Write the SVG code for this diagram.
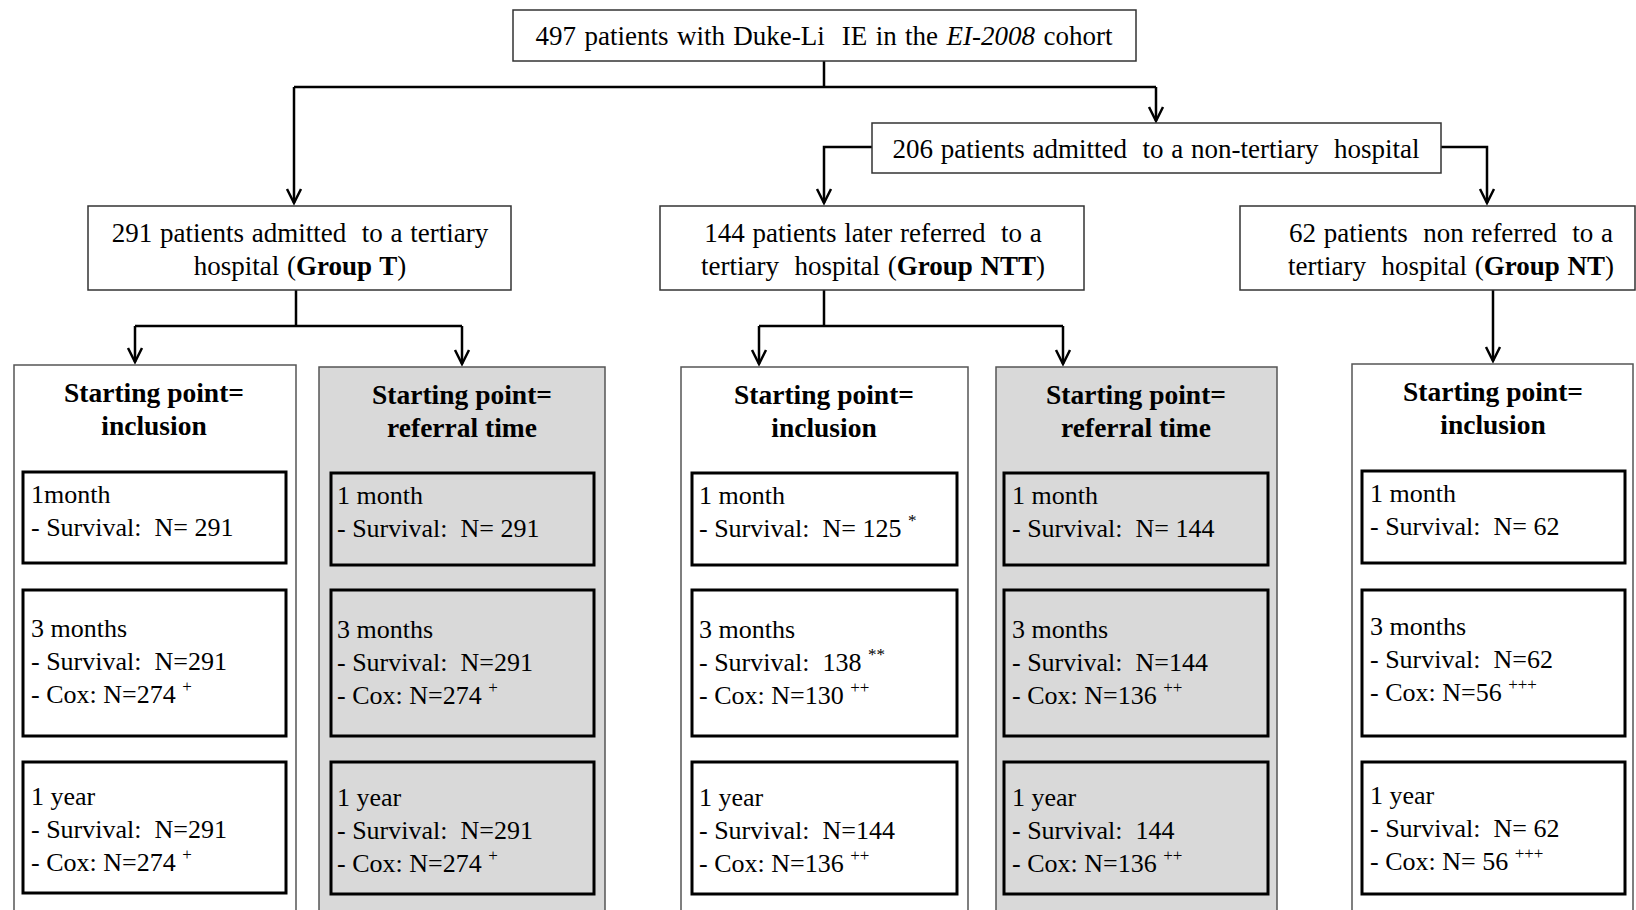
<svg xmlns="http://www.w3.org/2000/svg" width="1636" height="910" viewBox="0 0 1636 910">
<defs>
<style>
.t{font-family:"Liberation Serif","Times New Roman",serif;font-size:26px;fill:#000;white-space:pre}
.h{font-size:27px;word-spacing:1px}
.c{text-anchor:middle}
.b{font-weight:bold}
.ti{font-size:27.5px;font-weight:bold}
.box{fill:#fff;stroke:#333;stroke-width:1.5}
.colw{fill:#fff;stroke:#555;stroke-width:1.5}
.colg{fill:#d9d9d9;stroke:#555;stroke-width:1.5}
.in{fill:none;stroke:#000;stroke-width:3}
.conn{fill:none;stroke:#000;stroke-width:2.5}
.arr{marker-end:url(#ah)}
.sup{font-size:17px}
</style>
<marker id="ah" markerUnits="userSpaceOnUse" markerWidth="30" markerHeight="30" refX="0" refY="0" orient="auto" overflow="visible" viewBox="-20 -15 30 30">
<path d="M-14,-7 L0,0 L-14,7" fill="none" stroke="#000" stroke-width="2.5"/>
</marker>
</defs>
<rect width="1636" height="910" fill="#fff"/>
<g id="connectors">
<path class="conn" d="M824,61 V87 M294,87 H1156"/>
<path class="conn arr" d="M294,87 V203"/>
<path class="conn arr" d="M1156,87 V121"/>
<path class="conn arr" d="M872,147 H824 V203"/>
<path class="conn arr" d="M1441,147 H1487 V203"/>
<path class="conn" d="M296,290 V326 M135,326 H462"/>
<path class="conn arr" d="M135,326 V362"/>
<path class="conn arr" d="M462,326 V364"/>
<path class="conn" d="M824,290 V326 M759,326 H1063"/>
<path class="conn arr" d="M759,326 V364"/>
<path class="conn arr" d="M1063,326 V364"/>
<path class="conn arr" d="M1493,290 V361"/>
</g>
<g id="n-top">
<rect class="box" x="513" y="10" width="623" height="51"/>
<text class="t h c" x="824" y="45" style="word-spacing:1.7px">497 patients with Duke-Li  IE in the <tspan font-style="italic">EI-2008</tspan> cohort</text>
</g>
<g id="n-nontertiary">
<rect class="box" x="872" y="123" width="569" height="50"/>
<text class="t h c" x="1156" y="158">206 patients admitted  to a non-tertiary  hospital</text>
</g>
<g id="n-groupT">
<rect class="box" x="88" y="206" width="423" height="84"/>
<text class="t h c" x="300" y="242">291 patients admitted  to a tertiary</text>
<text class="t h c" x="300" y="275">hospital (<tspan class="b">Group T</tspan>)</text>
</g>
<g id="n-groupNTT">
<rect class="box" x="660" y="206" width="424" height="84"/>
<text class="t h c" x="873" y="242">144 patients later referred  to a</text>
<text class="t h c" x="873" y="275">tertiary  hospital (<tspan class="b">Group NTT</tspan>)</text>
</g>
<g id="n-groupNT">
<rect class="box" x="1240" y="206" width="395" height="84"/>
<text class="t h c" x="1451" y="242">62 patients  non referred  to a</text>
<text class="t h c" x="1451" y="275">tertiary  hospital (<tspan class="b">Group NT</tspan>)</text>
</g>
<g id="n-T-inclusion">
<rect class="colw" x="14" y="365" width="282" height="570"/>
<text class="t ti c" x="154" y="402">Starting point=</text>
<text class="t ti c" x="154" y="435">inclusion</text>
<rect class="in" x="23" y="472" width="263" height="91"/>
<text class="t" x="31" y="503">1month</text>
<text class="t" x="31" y="536">- Survival:  N= 291</text>
<rect class="in" x="23" y="590" width="263" height="146"/>
<text class="t" x="31" y="637">3 months</text>
<text class="t" x="31" y="670">- Survival:  N=291</text>
<text class="t" x="31" y="703">- Cox: N=274 <tspan class="sup" dy="-11">+</tspan></text>
<rect class="in" x="23" y="762" width="263" height="131"/>
<text class="t" x="31" y="805">1 year</text>
<text class="t" x="31" y="838">- Survival:  N=291</text>
<text class="t" x="31" y="871">- Cox: N=274 <tspan class="sup" dy="-11">+</tspan></text>
</g>
<g id="n-T-referral">
<rect class="colg" x="319" y="367" width="286" height="570"/>
<text class="t ti c" x="462" y="404">Starting point=</text>
<text class="t ti c" x="462" y="437">referral time</text>
<rect class="in" x="331" y="473" width="263" height="92"/>
<text class="t" x="337" y="504">1 month</text>
<text class="t" x="337" y="537">- Survival:  N= 291</text>
<rect class="in" x="331" y="590" width="263" height="146"/>
<text class="t" x="337" y="638">3 months</text>
<text class="t" x="337" y="671">- Survival:  N=291</text>
<text class="t" x="337" y="704">- Cox: N=274 <tspan class="sup" dy="-11">+</tspan></text>
<rect class="in" x="331" y="762" width="263" height="132"/>
<text class="t" x="337" y="806">1 year</text>
<text class="t" x="337" y="839">- Survival:  N=291</text>
<text class="t" x="337" y="872">- Cox: N=274 <tspan class="sup" dy="-11">+</tspan></text>
</g>
<g id="n-NTT-inclusion">
<rect class="colw" x="681" y="367" width="287" height="570"/>
<text class="t ti c" x="824" y="404">Starting point=</text>
<text class="t ti c" x="824" y="437">inclusion</text>
<rect class="in" x="692" y="473" width="265" height="92"/>
<text class="t" x="699" y="504">1 month</text>
<text class="t" x="699" y="537">- Survival:  N= 125 <tspan class="sup" dy="-11">*</tspan></text>
<rect class="in" x="692" y="590" width="265" height="146"/>
<text class="t" x="699" y="638">3 months</text>
<text class="t" x="699" y="671">- Survival:  138 <tspan class="sup" dy="-11">**</tspan></text>
<text class="t" x="699" y="704">- Cox: N=130 <tspan class="sup" dy="-11">++</tspan></text>
<rect class="in" x="692" y="762" width="265" height="132"/>
<text class="t" x="699" y="806">1 year</text>
<text class="t" x="699" y="839">- Survival:  N=144</text>
<text class="t" x="699" y="872">- Cox: N=136 <tspan class="sup" dy="-11">++</tspan></text>
</g>
<g id="n-NTT-referral">
<rect class="colg" x="996" y="367" width="281" height="570"/>
<text class="t ti c" x="1136" y="404">Starting point=</text>
<text class="t ti c" x="1136" y="437">referral time</text>
<rect class="in" x="1004" y="473" width="264" height="92"/>
<text class="t" x="1012" y="504">1 month</text>
<text class="t" x="1012" y="537">- Survival:  N= 144</text>
<rect class="in" x="1004" y="590" width="264" height="146"/>
<text class="t" x="1012" y="638">3 months</text>
<text class="t" x="1012" y="671">- Survival:  N=144</text>
<text class="t" x="1012" y="704">- Cox: N=136 <tspan class="sup" dy="-11">++</tspan></text>
<rect class="in" x="1004" y="762" width="264" height="132"/>
<text class="t" x="1012" y="806">1 year</text>
<text class="t" x="1012" y="839">- Survival:  144</text>
<text class="t" x="1012" y="872">- Cox: N=136 <tspan class="sup" dy="-11">++</tspan></text>
</g>
<g id="n-NT-inclusion">
<rect class="colw" x="1352" y="364" width="281" height="570"/>
<text class="t ti c" x="1493" y="401">Starting point=</text>
<text class="t ti c" x="1493" y="434">inclusion</text>
<rect class="in" x="1362" y="471" width="263" height="92"/>
<text class="t" x="1370" y="502">1 month</text>
<text class="t" x="1370" y="535">- Survival:  N= 62</text>
<rect class="in" x="1362" y="590" width="263" height="146"/>
<text class="t" x="1370" y="635">3 months</text>
<text class="t" x="1370" y="668">- Survival:  N=62</text>
<text class="t" x="1370" y="701">- Cox: N=56 <tspan class="sup" dy="-11">+++</tspan></text>
<rect class="in" x="1362" y="762" width="263" height="132"/>
<text class="t" x="1370" y="804">1 year</text>
<text class="t" x="1370" y="837">- Survival:  N= 62</text>
<text class="t" x="1370" y="870">- Cox: N= 56 <tspan class="sup" dy="-11">+++</tspan></text>
</g>
</svg>
